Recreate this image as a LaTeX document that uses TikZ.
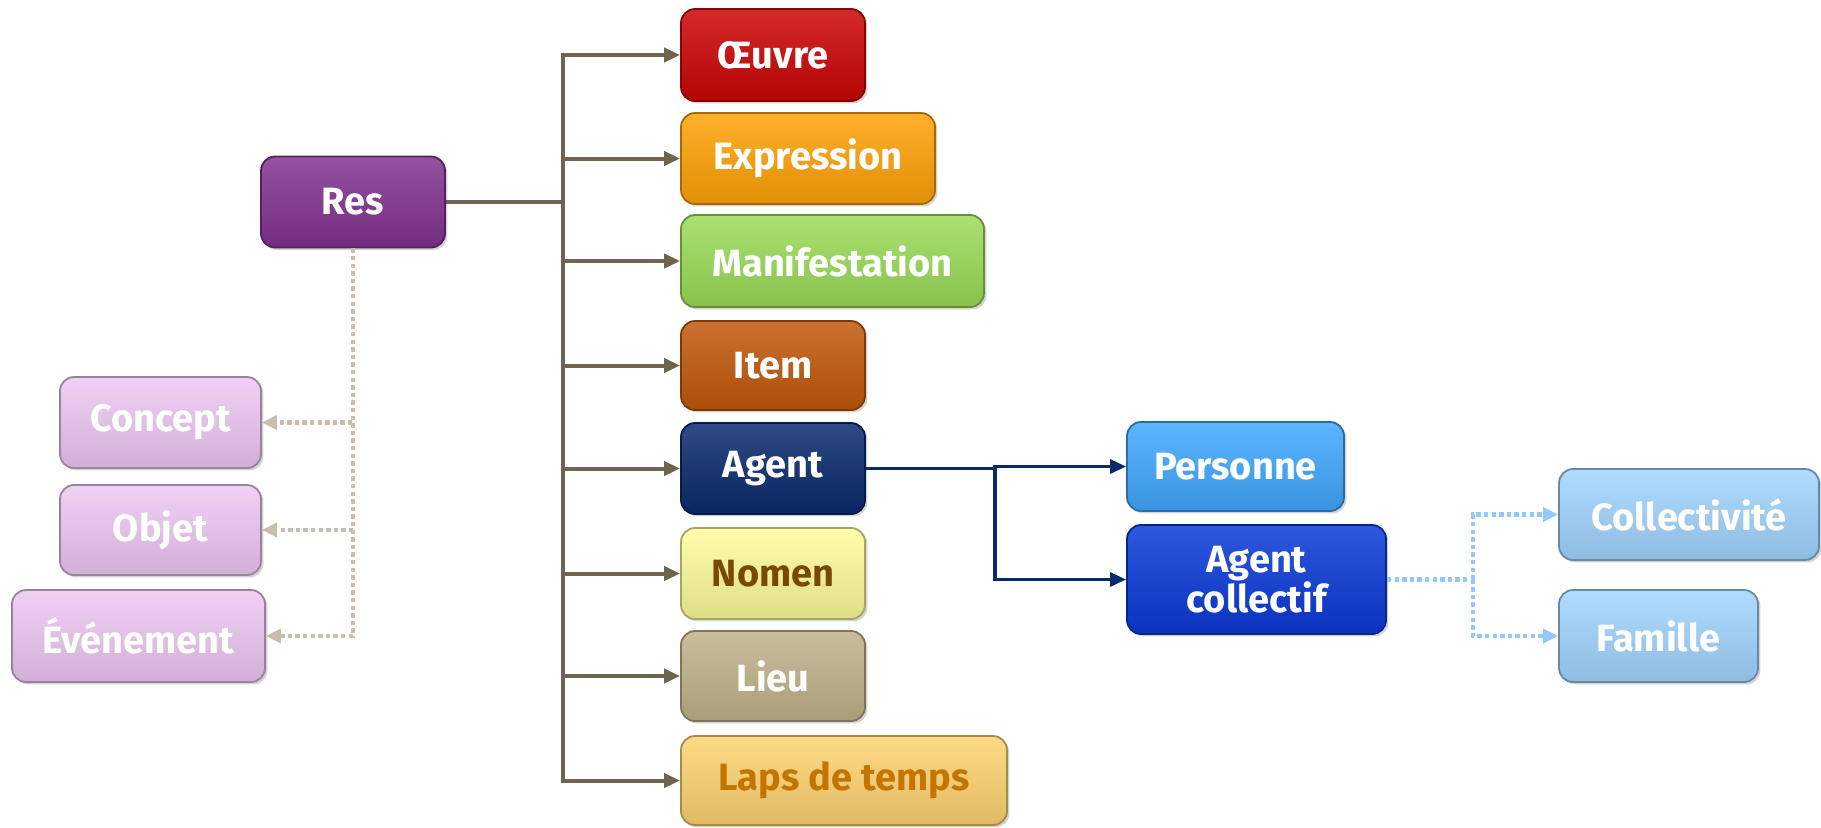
\documentclass[tikz,border=0pt]{standalone}
\usepackage{fontspec}
\setmainfont{Fira Sans}
\usetikzlibrary{arrows.meta,shadows}
\definecolor{cres}{HTML}{823390}
\definecolor{coeuvre}{HTML}{CC0404}
\definecolor{cexpr}{HTML}{FFA206}
\definecolor{cmanif}{HTML}{9BDC58}
\definecolor{citem}{HTML}{C2580A}
\definecolor{cagent}{HTML}{0A2A6E}
\definecolor{cnomen}{HTML}{FDFD9C}
\definecolor{cnomentxt}{HTML}{7A4800}
\definecolor{clieu}{HTML}{C0B28A}
\definecolor{claps}{HTML}{FFD470}
\definecolor{clapstxt}{HTML}{C47400}
\definecolor{cpink}{HTML}{EDC8F2}
\definecolor{cpers}{HTML}{40A8FF}
\definecolor{ccoll}{HTML}{0A3AD8}
\definecolor{clblue}{HTML}{A2D5FF}
\definecolor{ctrunk}{HTML}{6E6450}
\definecolor{cdotgrey}{HTML}{C8BEAC}
\definecolor{cdotblue}{HTML}{92C8FF}
\tikzset{
  box/.style={rounded corners=7pt, top color=#1!85!white, middle color=#1, bottom color=#1!88!black,
    draw=#1!65!black, line width=0.9pt, text=white, font=\fontsize{19}{23}\selectfont\bfseries,
    align=center, inner sep=0pt,
    drop shadow={opacity=0.35, shadow xshift=1.2pt, shadow yshift=-1.2pt}},
  trunk/.style={draw=ctrunk, line width=2pt},
  trunkarrow/.style={trunk, -{Triangle[length=8pt,width=7pt]}},
  agentline/.style={draw=cagent, line width=1.6pt},
  agentarrow/.style={agentline, -{Triangle[length=8pt,width=7pt]}},
  dotgrey/.style={draw=cdotgrey, line width=2.2pt, dash pattern=on 2.2pt off 1.6pt, -{Triangle[length=7.5pt,width=7pt]}},
  dotblue/.style={draw=cdotblue, line width=2.2pt, dash pattern=on 2.2pt off 1.6pt, -{Triangle[length=7.5pt,width=7pt]}},
}
\begin{document}
\begin{tikzpicture}[x=0.5pt,y=-0.5pt]
\useasboundingbox (0,0) rectangle (1821,827);
% nodes
\node[box=cres, minimum width=92pt, minimum height=45.5pt] (res) at (353,202) {Res};
\node[box=coeuvre, minimum width=92pt, minimum height=46pt] (oeuvre) at (773,55) {Œuvre};
\node[box=cexpr, minimum width=127pt, minimum height=45.5pt] (expr) at (808,158.5) {Expression};
\node[box=cmanif, minimum width=151.5pt, minimum height=46pt] (manif) at (832.5,261) {Manifestation};
\node[box=citem, minimum width=92pt, minimum height=44.5pt] (item) at (773,365.5) {Item};
\node[box=cagent, minimum width=92pt, minimum height=45.5pt] (agent) at (773,468.5) {Agent};
\node[box=cnomen, text=cnomentxt, minimum width=92pt, minimum height=45.5pt] (nomen) at (773,573.5) {Nomen};
\node[box=clieu, minimum width=92pt, minimum height=45pt] (lieu) at (773,676) {Lieu};
\node[box=claps, text=clapstxt, minimum width=163pt, minimum height=44.5pt] (laps) at (844,780.5) {Laps de temps};
\node[box=cpink, minimum width=100.5pt, minimum height=45.5pt] (concept) at (160.5,422.5) {Concept};
\node[box=cpink, minimum width=100.5pt, minimum height=45pt] (objet) at (160.5,530) {Objet};
\node[box=cpink, minimum width=126.5pt, minimum height=46pt] (event) at (138.5,636) {Événement};
\node[box=cpers, minimum width=108.5pt, minimum height=44.5pt] (pers) at (1235.5,466.5) {Personne};
\node[box=ccoll, minimum width=129.5pt, minimum height=54.5pt] (agcoll) at (1256.5,579.5) {Agent\\[-3pt]collectif};
\node[box=clblue, minimum width=130pt, minimum height=45.5pt] (collect) at (1689,514.5) {Collectivité};
\node[box=clblue, minimum width=99.5pt, minimum height=46pt] (famille) at (1658.5,636) {Famille};
% main trunk
\coordinate (tj) at (563,202);
\draw[trunk] (res.east) -- (tj);
\foreach \n in {oeuvre,expr,manif,item,agent,nomen,lieu,laps}
  \draw[trunkarrow] (tj) |- (\n.west);
% agent branch
\coordinate (aj) at (995,468.5);
\draw[agentline] (agent.east) -- (aj);
\draw[agentarrow] (aj) |- (pers.west);
\draw[agentarrow] (aj) |- (agcoll.west);
% dotted grey
\foreach \n in {concept,objet,event}
  \draw[dotgrey] (res.south) |- (\n.east);
% dotted blue
\coordinate (bj) at (1473,579.5);
\draw[dotblue, -] (agcoll.east) -- (bj);
\draw[dotblue] (bj) |- (collect.west);
\draw[dotblue] (bj) |- (famille.west);
\end{tikzpicture}
\end{document}
